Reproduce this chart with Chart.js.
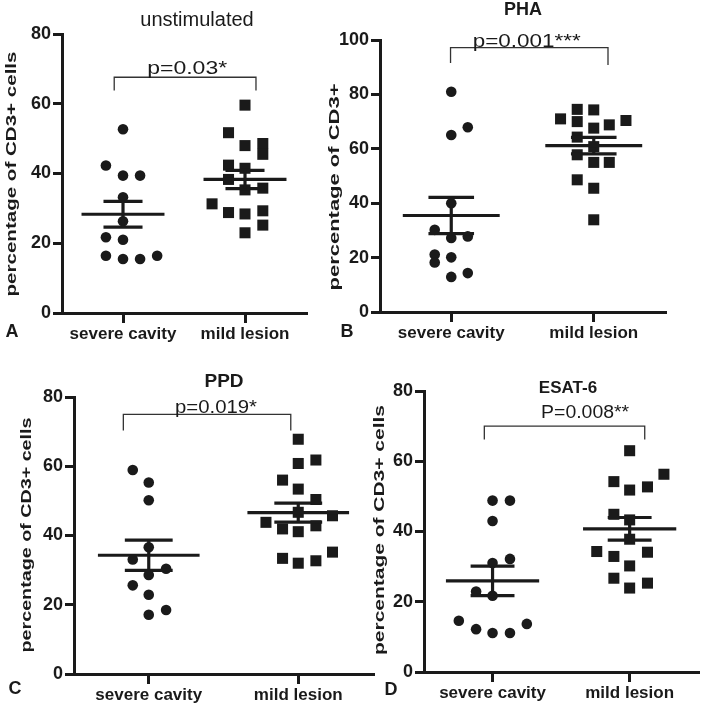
<!DOCTYPE html>
<html>
<head>
<meta charset="utf-8">
<script src="https://cdn.jsdelivr.net/npm/chart.js@4.4.1/dist/chart.umd.min.js"></script>
<style>
  body { margin: 0; background: #fff; }
  #wrap { position: relative; width: 706px; height: 708px; }
  #wrap canvas { position: absolute; left: 0; top: 0; }
</style>
</head>
<body>
<div id="wrap">
  <canvas id="chartA" width="706" height="708"></canvas>
  <canvas id="chartB" width="706" height="708"></canvas>
  <canvas id="chartC" width="706" height="708"></canvas>
  <canvas id="chartD" width="706" height="708"></canvas>
</div>
<script>
const groups = ["severe cavity", "mild lesion"];

// A - unstimulated
const unstimSevere = [52.7, 42.3, 39.4, 39.4, 33.2, 26.3, 21.7, 21.0, 16.4, 15.5, 15.5, 16.4];
const unstimSevereX = [1, 0.86, 1, 1.14, 1, 1, 0.86, 1, 0.86, 1, 1.14, 1.28];
const unstimMild = [59.6, 51.7, 48.0, 48.6, 45.5, 42.4, 41.5, 38.3, 35.3, 35.8, 31.3, 28.8, 28.4, 29.3, 25.2, 23.0];
const unstimMildX = [2, 1.865, 2, 2.146, 2.146, 1.865, 2, 1.865, 2, 2.146, 1.73, 1.865, 2, 2.146, 2.146, 2];

// B - PHA
const phaSevere = [81.0, 67.9, 65.1, 40.0, 30.2, 27.2, 27.8, 21.1, 18.2, 20.1, 14.3, 12.9];
const phaSevereX = [1, 1.116, 1, 1, 0.884, 1, 1.116, 0.884, 0.884, 1, 1.116, 1];
const phaMild = [71.0, 74.5, 70.0, 74.3, 67.6, 68.8, 70.4, 64.3, 60.8, 57.8, 55.0, 55.0, 48.6, 45.5, 33.9];
const phaMildX = [1.767, 1.884, 1.884, 2, 2, 2.109, 2.226, 1.884, 2, 1.884, 2, 2.109, 1.884, 2, 2];

// C - PPD
const ppdSevere = [58.9, 55.3, 50.2, 36.6, 33.1, 30.4, 28.6, 25.6, 22.9, 18.5, 17.1];
const ppdSevereX = [0.893, 1, 1, 1, 0.893, 1.116, 1, 0.893, 1, 1.116, 1];
const ppdMild = [67.8, 60.8, 61.8, 56.0, 53.4, 50.4, 46.7, 43.8, 41.9, 42.8, 45.7, 41.1, 33.4, 32.0, 32.7, 35.2];
const ppdMildX = [2, 2, 2.118, 1.895, 2, 2.118, 2, 1.784, 1.895, 2.118, 2.229, 2, 1.895, 2, 2.118, 2.229];

// D - ESAT-6
const esatSevere = [48.8, 48.8, 43.0, 32.2, 31.0, 22.9, 21.7, 14.6, 12.2, 11.1, 11.1, 13.7];
const esatSevereX = [1, 1.127, 1, 1.127, 1, 0.88, 1, 0.754, 0.88, 1, 1.127, 1.25];
const esatMild = [63.0, 56.3, 54.2, 51.8, 52.7, 44.9, 43.3, 37.8, 34.3, 32.9, 34.1, 30.2, 26.7, 23.9, 25.3];
const esatMildX = [2, 2.25, 1.885, 2, 2.13, 1.885, 2, 2, 1.76, 1.885, 2.13, 2, 1.885, 2, 2.13];

const ink = "#1a1a1a";
const fontFamily = "'Liberation Sans', Arial, sans-serif";

function stats(vals) {
  const n = vals.length;
  const mean = vals.reduce((a, b) => a + b, 0) / n;
  const sd = Math.sqrt(vals.reduce((a, v) => a + (v - mean) ** 2, 0) / (n - 1));
  return { mean: mean, sem: sd / Math.sqrt(n) };
}

// mean line + SEM whisker with caps
function summaryLines(cx, vals) {
  const s = stats(vals);
  const hi = s.mean + s.sem, lo = s.mean - s.sem;
  return [
    [{ x: cx - 0.34, y: s.mean }, { x: cx + 0.34, y: s.mean }],
    [{ x: cx, y: lo }, { x: cx, y: hi }],
    [{ x: cx - 0.16, y: hi }, { x: cx + 0.16, y: hi }],
    [{ x: cx - 0.16, y: lo }, { x: cx + 0.16, y: lo }]
  ];
}

function drawText(ctx, text, x, y, font, width, angle) {
  ctx.save();
  ctx.font = font;
  ctx.translate(x, y);
  if (angle) ctx.rotate(angle);
  if (width) ctx.scale(width / ctx.measureText(text).width, 1);
  ctx.textAlign = "center";
  ctx.fillText(text, 0, 0);
  ctx.restore();
}

// titles, panel letters, y titles and the p-value brackets
const panelText = {
  id: "panelText",
  afterDraw(chart, args, o) {
    const ctx = chart.ctx;
    const xs = chart.scales.x, ys = chart.scales.y;
    ctx.save();
    ctx.fillStyle = ink;
    ctx.textBaseline = "alphabetic";
    drawText(ctx, o.title, o.titlePos[0], o.titlePos[1], o.titleFont);
    drawText(ctx, o.letter, o.letterPos[0], o.letterPos[1], "bold 18px " + fontFamily);

    ctx.textBaseline = "middle";
    drawText(ctx, "percentage of CD3+" + (o.cells ? " cells" : ""), o.yTitlePos[0], o.yTitlePos[1],
      "bold 15px " + fontFamily, o.yTitleLen, -Math.PI / 2);

    const b = o.bracket;
    ctx.strokeStyle = "#333";
    ctx.lineWidth = 1.3;
    ctx.beginPath();
    ctx.moveTo(xs.getPixelForValue(b.x1), ys.getPixelForValue(b.drop1));
    ctx.lineTo(xs.getPixelForValue(b.x1), ys.getPixelForValue(b.y));
    ctx.lineTo(xs.getPixelForValue(b.x2), ys.getPixelForValue(b.y));
    ctx.lineTo(xs.getPixelForValue(b.x2), ys.getPixelForValue(b.drop2));
    ctx.stroke();

    ctx.textBaseline = "alphabetic";
    drawText(ctx, o.pText, xs.getPixelForValue(o.pX), ys.getPixelForValue(o.pY),
      "18px " + fontFamily, o.pWidth);
    ctx.restore();
  }
};

const panels = [
  {
    id: "chartA", yMax: 80, severe: unstimSevere, severeX: unstimSevereX, mild: unstimMild, mildX: unstimMildX,
    pad: { left: 12, right: 400, top: 34, bottom: 365 },
    text: {
      title: "unstimulated", titlePos: [197, 26], titleFont: "20px " + fontFamily,
      letter: "A", letterPos: [12, 337], cells: true, yTitlePos: [12, 174], yTitleLen: 245,
      bracket: { x1: 0.928, x2: 2.09, y: 67.6, drop1: 63.8, drop2: 63.8 },
      pText: "p=0.03*", pX: 1.526, pY: 68.4, pWidth: 80
    }
  },
  {
    id: "chartB", yMax: 100, severe: phaSevere, severeX: phaSevereX, mild: phaMild, mildX: phaMildX,
    pad: { left: 330, right: 41, top: 40, bottom: 366 },
    text: {
      title: "PHA", titlePos: [523, 15], titleFont: "bold 18px " + fontFamily,
      letter: "B", letterPos: [347, 337], cells: false, yTitlePos: [335, 187], yTitleLen: 207,
      bracket: { x1: 0.995, x2: 2.1, y: 97.2, drop1: 91.5, drop2: 90.8 },
      pText: "p=0.001***", pX: 1.53, pY: 97.5, pWidth: 108
    }
  },
  {
    id: "chartC", yMax: 80, severe: ppdSevere, severeX: ppdSevereX, mild: ppdMild, mildX: ppdMildX,
    pad: { left: 24, right: 333, top: 397, bottom: 4 },
    text: {
      title: "PPD", titlePos: [224, 387], titleFont: "bold 19px " + fontFamily,
      letter: "C", letterPos: [15, 694], cells: true, yTitlePos: [27, 535], yTitleLen: 235,
      bracket: { x1: 0.83, x2: 1.95, y: 75.0, drop1: 70.3, drop2: 70.3 },
      pText: "p=0.019*", pX: 1.45, pY: 75.3, pWidth: 82
    }
  },
  {
    id: "chartD", yMax: 80, severe: esatSevere, severeX: esatSevereX, mild: esatMild, mildX: esatMildX,
    pad: { left: 374, right: 2, top: 391, bottom: 6 },
    text: {
      title: "ESAT-6", titlePos: [568, 393], titleFont: "bold 17px " + fontFamily,
      letter: "D", letterPos: [391, 695], cells: true, yTitlePos: [380, 530], yTitleLen: 250,
      bracket: { x1: 0.94, x2: 2.11, y: 70.0, drop1: 66.2, drop2: 66.2 },
      pText: "P=0.008**", pX: 1.675, pY: 72.2, pWidth: 88
    }
  }
];

function lineSet(points) {
  return {
    type: "line", data: points, showLine: true, borderColor: ink, borderWidth: 3.2,
    pointRadius: 0, fill: false, clip: false, borderCapStyle: "butt"
  };
}

function makeChart(p) {
  const datasets = [];
  summaryLines(1, p.severe).concat(summaryLines(2, p.mild)).forEach(pts => datasets.push(lineSet(pts)));
  datasets.push({
    data: p.severe.map((v, i) => ({ x: p.severeX[i], y: v })),
    pointStyle: "circle", pointRadius: 5.3, backgroundColor: ink, borderWidth: 0, clip: false
  });
  datasets.push({
    data: p.mild.map((v, i) => ({ x: p.mildX[i], y: v })),
    pointStyle: "rect", pointRadius: 7.8, backgroundColor: ink, borderWidth: 0, clip: false
  });

  new Chart(document.getElementById(p.id), {
    type: "scatter",
    data: { datasets: datasets },
    plugins: [panelText],
    options: {
      responsive: false,
      animation: false,
      layout: { padding: p.pad },
      plugins: { legend: { display: false }, tooltip: { enabled: false }, panelText: p.text },
      scales: {
        x: {
          type: "linear", min: 0.5, max: 2.5,
          afterBuildTicks: s => { s.ticks = [{ value: 1 }, { value: 2 }]; },
          afterFit: s => { s.height = 30; },
          ticks: {
            callback: (v, i) => groups[i], color: ink, padding: 1, autoSkip: false, maxRotation: 0,
            font: { family: fontFamily, size: 17, weight: "bold" }
          },
          grid: { drawOnChartArea: false, color: ink, lineWidth: 3, tickLength: 10 },
          border: { color: ink, width: 3 }
        },
        y: {
          min: 0, max: p.yMax,
          afterFit: s => { s.width = 50; },
          ticks: { stepSize: 20, color: ink, padding: 2, font: { family: fontFamily, size: 18, weight: "bold" } },
          grid: { drawOnChartArea: false, color: ink, lineWidth: 3, tickLength: 9 },
          border: { color: ink, width: 3 }
        }
      }
    }
  });
}

panels.forEach(makeChart);
</script>
</body>
</html>
